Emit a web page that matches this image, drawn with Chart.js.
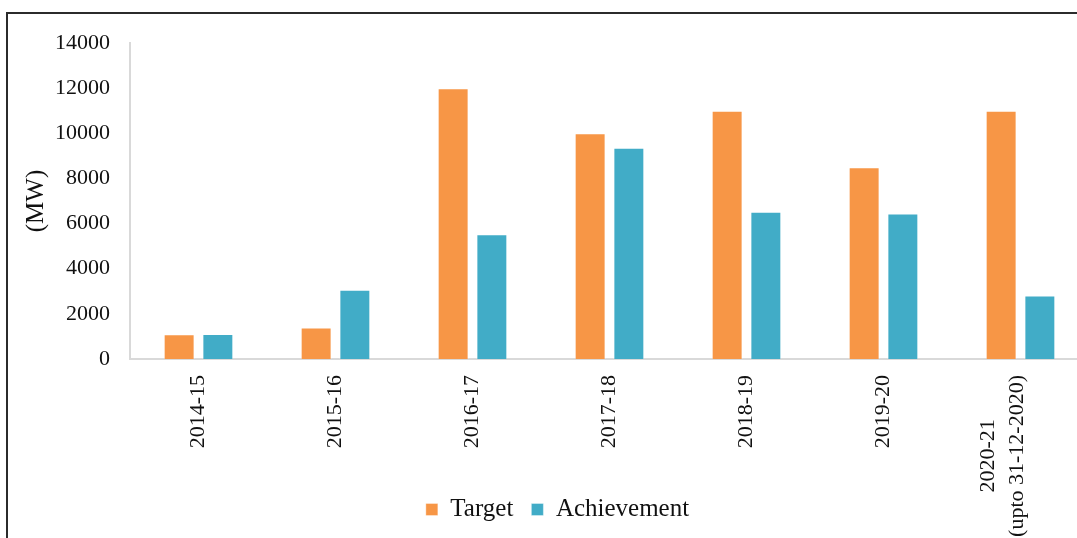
<!DOCTYPE html>
<html>
<head>
<meta charset="utf-8">
<script src="https://cdn.jsdelivr.net/npm/chart.js@4"></script>
<style>
  html, body { margin: 0; padding: 0; background: #fff; overflow: hidden; }
  #frame { position: absolute; left: 6px; top: 12px; width: 2000px; height: 1000px;
           border-left: 2px solid #2b2b2b; border-top: 2px solid #2b2b2b; }
  #wrap { position: absolute; left: 8px; top: 14px; width: 1081px; height: 524px; }
</style>
</head>
<body>
<div id="frame"></div>
<div id="wrap"><canvas id="solar_bar"></canvas></div>
<script>
// year labels, last one has two lines
var categories = ['2014-15', '2015-16', '2016-17', '2017-18', '2018-19', '2019-20', ['2020-21', '(upto 31-12-2020)']];
var target = [1100, 1400, 12000, 10000, 11000, 8500, 11000];
var achievement = [1112, 3070, 5526, 9363, 6529, 6450, 2810];
var yMin = 0, yMax = 14000, yStep = 2000;

var serif = '"Liberation Serif", "Times New Roman", serif';

// rotated x labels, lines centred on each other like the original
var xLabels = {
  id: 'xLabels',
  afterDraw: function(chart) {
    var ctx = chart.ctx, xs = chart.scales.x;
    ctx.save();
    ctx.font = '22px ' + serif;
    ctx.fillStyle = '#111';
    ctx.textAlign = 'center';
    ctx.textBaseline = 'middle';
    categories.forEach(function(lab, i) {
      var lines = [].concat(lab);
      var maxW = Math.max.apply(null, lines.map(function(l){ return ctx.measureText(l).width; }));
      var x = xs.getPixelForValue(i);
      var y = xs.top + 16 + maxW / 2;
      lines.forEach(function(line, k) {
        var dx = (k - (lines.length - 1)) * 29 - (lines.length > 1 ? 3 : 0);
        ctx.save();
        ctx.translate(x + dx, y);
        ctx.rotate(-Math.PI / 2);
        ctx.fillText(line, 0, 0);
        ctx.restore();
      });
    });
    ctx.restore();
  }
};

var ctx = document.getElementById('solar_bar');
var barChart = new Chart(ctx, {
  type: 'bar',
  data: {
    labels: categories,
    datasets: [{
      label: 'Target',
      data: target,
      backgroundColor: '#F79646',
      borderColor: 'rgba(255,255,255,0.35)',
      borderWidth: 1
    }, {
      label: 'Achievement',
      data: achievement,
      backgroundColor: '#41ACC7',
      borderColor: 'rgba(255,255,255,0.35)',
      borderWidth: 1
    }]
  },
  options: {
    responsive: true,
    maintainAspectRatio: false,
    animation: false,
    categoryPercentage: 0.565,
    barPercentage: 0.8,
    layout: {
      padding: { left: 18, right: 0, top: 29, bottom: 6 }
    },
    plugins: {
      tooltip: { enabled: false },
      legend: {
        display: true,
        position: 'bottom',
        labels: {
          color: '#111',
          font: { family: serif, size: 25 },
          boxWidth: 12,
          boxHeight: 12,
          padding: 18
        }
      }
    },
    scales: {
      x: {
        grid: { display: false, drawTicks: false },
        border: { display: true, color: '#d9d9d9', width: 2 },
        ticks: { display: false },
        afterFit: function(scale) { scale.height = 120; }
      },
      y: {
        min: yMin,
        max: yMax,
        grid: { display: false, drawTicks: false },
        border: { display: true, color: '#d9d9d9', width: 2 },
        ticks: {
          stepSize: yStep,
          color: '#111',
          padding: 20,
          font: { family: serif, size: 22, lineHeight: 0.8 },
          callback: function(v) { return String(v); }
        },
        title: {
          display: true,
          text: '(MW)',
          color: '#111',
          font: { family: serif, size: 25, lineHeight: 0.8 },
          padding: { top: 0, bottom: 0 }
        },
        afterFit: function(scale) { scale.width = 104; }
      }
    }
  },
  plugins: [xLabels]
});
</script>
</body>
</html>
